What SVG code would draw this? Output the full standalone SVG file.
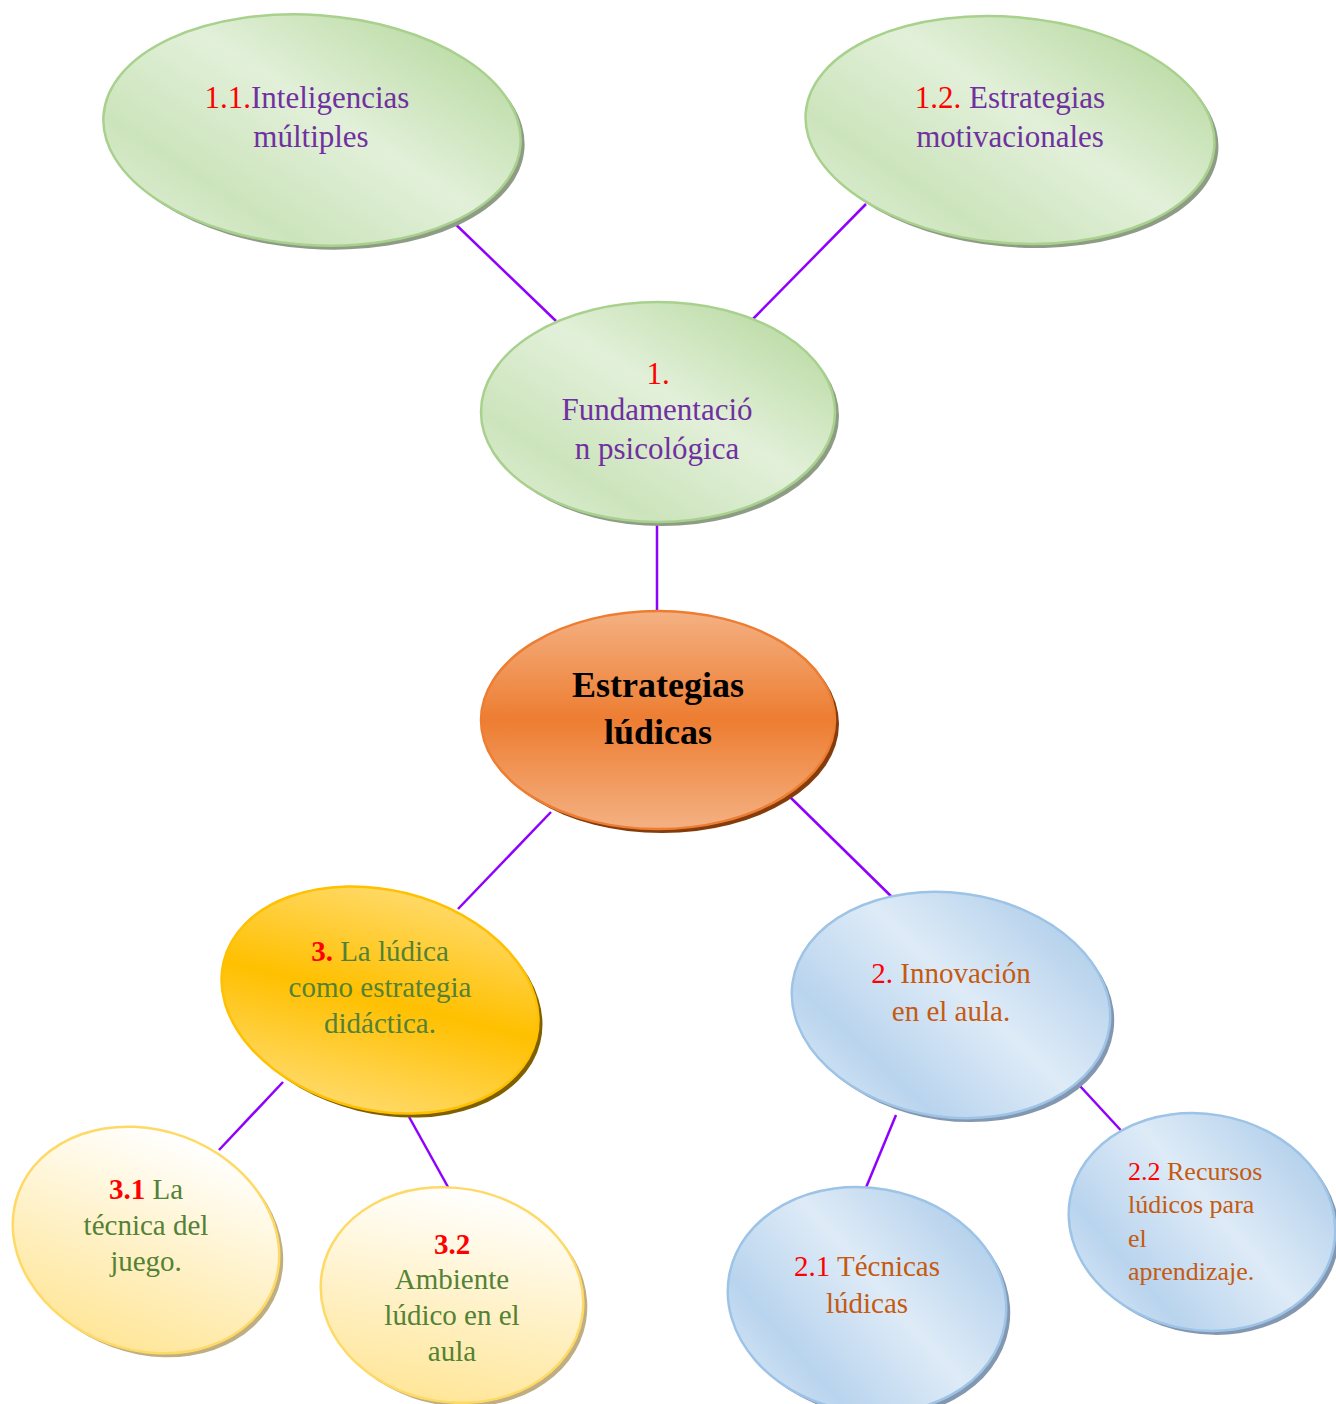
<svg xmlns="http://www.w3.org/2000/svg" width="1336" height="1404" viewBox="0 0 1336 1404">
<defs>
<linearGradient id="gGreen" x1="1" y1="0" x2="0" y2="1">
<stop offset="0" stop-color="#B0D596"/>
<stop offset="0.45" stop-color="#E2F0D9"/>
<stop offset="0.75" stop-color="#CCE4BC"/>
<stop offset="1" stop-color="#E4F1DC"/>
</linearGradient>
<linearGradient id="gBlue" x1="1" y1="0" x2="0" y2="1">
<stop offset="0" stop-color="#A3C6E7"/>
<stop offset="0.45" stop-color="#DEEBF7"/>
<stop offset="0.75" stop-color="#B9D4EE"/>
<stop offset="1" stop-color="#DFECF8"/>
</linearGradient>
<linearGradient id="gOrange" x1="0" y1="0" x2="0" y2="1">
<stop offset="0" stop-color="#F4B183"/>
<stop offset="0.5" stop-color="#ED7D31"/>
<stop offset="1" stop-color="#F4B183"/>
</linearGradient>
<linearGradient id="gGold" x1="0" y1="0" x2="0" y2="1">
<stop offset="0" stop-color="#FFD966"/>
<stop offset="0.5" stop-color="#FFC000"/>
<stop offset="1" stop-color="#FFD966"/>
</linearGradient>
<linearGradient id="gCream" x1="0" y1="0" x2="0" y2="1">
<stop offset="0" stop-color="#FFFFFF"/>
<stop offset="1" stop-color="#FFE699"/>
</linearGradient>
</defs>
<style>
text{font-family:"Liberation Serif","Times New Roman",serif;text-anchor:middle}
.green{fill:url(#gGreen);stroke:#A9D18E;stroke-width:2.5}
.blue{fill:url(#gBlue);stroke:#9DC3E6;stroke-width:2.5}
.orange{fill:url(#gOrange);stroke:#ED7D31;stroke-width:2.5}
.gold{fill:url(#gGold);stroke:#FFC000;stroke-width:2.5}
.cream{fill:url(#gCream);stroke:#FFD966;stroke-width:2.5}
.shG{fill:#8E9C86}
.shB{fill:#8497B0}
.shO{fill:#843C0C}
.shY{fill:#7F6000}
.shC{fill:#BFAE82}
.pur{fill:#7030A0}
.red{fill:#FF0000}
.org{fill:#C55A11}
.grn{fill:#538135}
.conn line{stroke:#8F00FF;stroke-width:2.5}
</style>
<g id="connectors" class="conn">
<line x1="447" y1="216" x2="556" y2="321"/>
<line x1="866" y1="204" x2="752" y2="320"/>
<line x1="657" y1="520" x2="657" y2="612"/>
<line x1="551" y1="812" x2="458" y2="909"/>
<line x1="790" y1="797" x2="897" y2="902"/>
<line x1="283" y1="1082" x2="219" y2="1150"/>
<line x1="408" y1="1115" x2="448" y2="1187"/>
<line x1="896" y1="1115" x2="865" y2="1190"/>
<line x1="1068" y1="1073" x2="1127" y2="1137"/>
</g>
<g id="n11">
<ellipse class="shG" cx="316" cy="134" rx="209" ry="115" transform="rotate(4 316 134)"/>
<ellipse class="green" cx="312" cy="130" rx="209" ry="115" transform="rotate(4 312 130)"/>
<text x="307" y="108" font-size="31"><tspan class="red">1.1.</tspan><tspan class="pur">Inteligencias</tspan></text>
<text x="311" y="147" font-size="31" class="pur">múltiples</text>
</g>
<g id="n12">
<ellipse class="shG" cx="1014" cy="134" rx="205" ry="113" transform="rotate(5 1014 134)"/>
<ellipse class="green" cx="1010" cy="130" rx="205" ry="113" transform="rotate(5 1010 130)"/>
<text x="1010" y="108" font-size="31"><tspan class="red">1.2.</tspan><tspan class="pur"> Estrategias</tspan></text>
<text x="1010" y="147" font-size="31" class="pur">motivacionales</text>
</g>
<g id="n1">
<ellipse class="shG" cx="662" cy="416" rx="177" ry="110"/>
<ellipse class="green" cx="658" cy="412" rx="177" ry="110"/>
<text x="658" y="384" font-size="31" class="red">1.</text>
<text x="657" y="420" font-size="31" class="pur">Fundamentació</text>
<text x="657" y="459" font-size="31" class="pur">n psicológica</text>
</g>
<g id="center">
<ellipse class="shO" cx="662" cy="724" rx="177" ry="109"/>
<ellipse class="orange" cx="658" cy="720" rx="177" ry="109"/>
<text x="658" y="697" font-size="36" font-weight="bold" fill="#000">Estrategias</text>
<text x="658" y="744" font-size="36" font-weight="bold" fill="#000">lúdicas</text>
</g>
<g id="n3">
<ellipse class="shY" cx="384" cy="1004" rx="161" ry="110" transform="rotate(14 384 1004)"/>
<ellipse class="gold" cx="380" cy="1000" rx="161" ry="110" transform="rotate(14 380 1000)"/>
<text x="380" y="961" font-size="29"><tspan class="red" font-weight="bold">3.</tspan><tspan class="grn"> La lúdica</tspan></text>
<text x="380" y="997" font-size="29" class="grn">como estrategia</text>
<text x="380" y="1033" font-size="29" class="grn">didáctica.</text>
</g>
<g id="n2">
<ellipse class="shB" cx="955" cy="1009" rx="160" ry="112" transform="rotate(8 955 1009)"/>
<ellipse class="blue" cx="951" cy="1005" rx="160" ry="112" transform="rotate(8 951 1005)"/>
<text x="951" y="983" font-size="29"><tspan class="red">2.</tspan><tspan class="org"> Innovación</tspan></text>
<text x="951" y="1021" font-size="29" class="org">en el aula.</text>
</g>
<g id="n31">
<ellipse class="shC" cx="150" cy="1244" rx="136" ry="110" transform="rotate(20 150 1244)"/>
<ellipse class="cream" cx="146" cy="1240" rx="136" ry="110" transform="rotate(20 146 1240)"/>
<text x="146" y="1199" font-size="29"><tspan class="red" font-weight="bold">3.1</tspan><tspan class="grn"> La</tspan></text>
<text x="146" y="1235" font-size="29" class="grn">técnica del</text>
<text x="146" y="1271" font-size="29" class="grn">juego.</text>
</g>
<g id="n32">
<ellipse class="shC" cx="456" cy="1299" rx="132" ry="107" transform="rotate(10 456 1299)"/>
<ellipse class="cream" cx="452" cy="1295" rx="132" ry="107" transform="rotate(10 452 1295)"/>
<text x="452" y="1254" font-size="29" class="red" font-weight="bold">3.2</text>
<text x="452" y="1289" font-size="29" class="grn">Ambiente</text>
<text x="452" y="1325" font-size="29" class="grn">lúdico en el</text>
<text x="452" y="1361" font-size="29" class="grn">aula</text>
</g>
<g id="n21">
<ellipse class="shB" cx="871" cy="1304" rx="140" ry="112" transform="rotate(10 871 1304)"/>
<ellipse class="blue" cx="867" cy="1300" rx="140" ry="112" transform="rotate(10 867 1300)"/>
<text x="867" y="1276" font-size="29"><tspan class="red">2.1</tspan><tspan class="org"> Técnicas</tspan></text>
<text x="867" y="1313" font-size="29" class="org">lúdicas</text>
</g>
<g id="n22">
<ellipse class="shB" cx="1206" cy="1226" rx="134" ry="108" transform="rotate(10 1206 1226)"/>
<ellipse class="blue" cx="1202" cy="1222" rx="134" ry="108" transform="rotate(10 1202 1222)"/>
<text x="1128" y="1180" font-size="26" style="text-anchor:start"><tspan class="red">2.2</tspan><tspan class="org"> Recursos</tspan></text>
<text x="1128" y="1213" font-size="26" class="org" style="text-anchor:start">lúdicos para</text>
<text x="1128" y="1247" font-size="26" class="org" style="text-anchor:start">el</text>
<text x="1128" y="1280" font-size="26" class="org" style="text-anchor:start">aprendizaje.</text>
</g>
</svg>
